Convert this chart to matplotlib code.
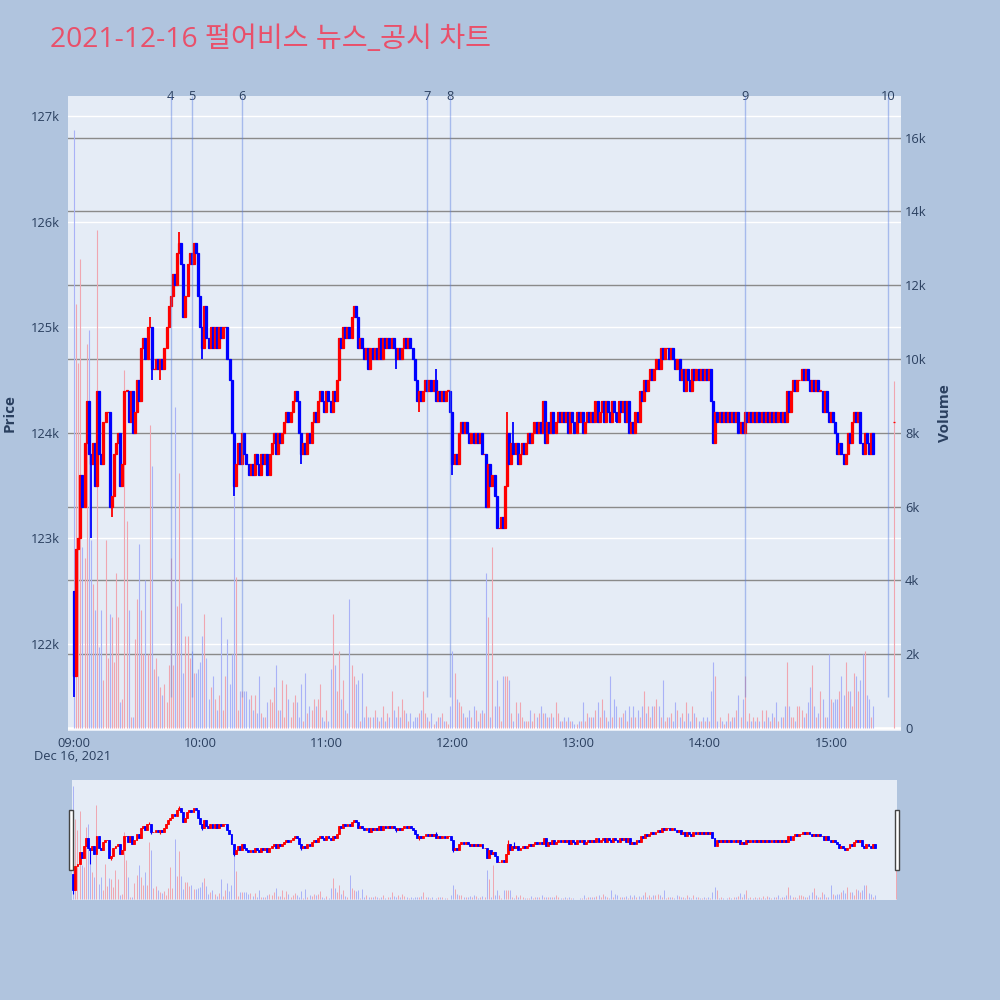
import numpy as np
import matplotlib.pyplot as plt
from matplotlib.transforms import blended_transform_factory
from matplotlib.patches import Rectangle

plt.rcParams['font.family'] = ['Open Sans', 'Noto Sans CJK KR', 'DejaVu Sans']

# 1분봉 종가 (천원) 09:00 ~ 15:20, 마지막 값은 15:30 동시호가
close = [
    121.7, 122.9, 123.0, 123.6, 123.3, 123.9, 124.3, 123.8, 123.7, 123.9,
    123.5, 124.4, 123.8, 123.7, 124.1, 124.2, 124.2, 123.3, 123.4, 123.8,
    123.9, 124.0, 123.5, 123.7, 124.4, 124.4, 124.1, 124.4, 124.0, 124.2,
    124.5, 124.3, 124.8, 124.9, 124.7, 125.0, 125.0, 124.6, 124.6, 124.7,
    124.6, 124.7, 124.6, 124.8, 125.0, 125.2, 125.3, 125.5, 125.4, 125.7,
    125.8, 125.6, 125.1, 125.3, 125.6, 125.7, 125.6, 125.8, 125.7, 125.3,
    125.0, 124.8, 125.2, 124.9, 124.8, 125.0, 124.8, 125.0, 124.8, 125.0,
    124.9, 125.0, 125.0, 124.7, 124.5, 124.0, 123.5, 123.7, 123.9, 123.7,
    124.0, 123.8, 123.7, 123.6, 123.7, 123.6, 123.8, 123.7, 123.6, 123.8,
    123.7, 123.8, 123.6, 123.8, 123.9, 124.0, 123.8, 124.0, 123.9, 124.0,
    124.1, 124.2, 124.1, 124.2, 124.3, 124.4, 124.3, 124.0, 123.8, 123.9,
    123.8, 124.0, 123.9, 124.1, 124.2, 124.1, 124.3, 124.4, 124.3, 124.2,
    124.4, 124.3, 124.2, 124.4, 124.3, 124.5, 124.9, 124.8, 125.0, 124.9,
    125.0, 124.9, 125.1, 125.2, 125.1, 124.8, 124.9, 124.8, 124.7, 124.8,
    124.6, 124.8, 124.7, 124.8, 124.7, 124.9, 124.7, 124.9, 124.8, 124.9,
    124.8, 124.9, 124.8, 124.7, 124.8, 124.7, 124.8, 124.9, 124.8, 124.9,
    124.8, 124.7, 124.5, 124.3, 124.4, 124.3, 124.4, 124.5, 124.4, 124.5,
    124.4, 124.5, 124.3, 124.4, 124.3, 124.4, 124.3, 124.4, 124.4, 124.2,
    123.7, 123.8, 123.7, 124.0, 124.1, 124.0, 124.1, 124.0, 123.9, 124.0,
    123.9, 124.0, 123.9, 124.0, 123.8, 123.8, 123.3, 123.7, 123.5, 123.6,
    123.4, 123.1, 123.1, 123.2, 123.1, 123.5, 124.0, 123.7, 123.9, 123.8,
    123.9, 123.7, 123.8, 123.9, 123.8, 123.9, 124.0, 123.9, 124.0, 124.1,
    124.0, 124.1, 124.0, 124.3, 123.9, 124.1, 124.0, 124.2, 124.0, 124.1,
    124.2, 124.1, 124.2, 124.1, 124.2, 124.0, 124.2, 124.1, 124.0, 124.2,
    124.1, 124.2, 124.0, 124.1, 124.2, 124.1, 124.2, 124.1, 124.3, 124.1,
    124.2, 124.3, 124.1, 124.3, 124.2, 124.1, 124.3, 124.2, 124.1, 124.3,
    124.2, 124.3, 124.1, 124.3, 124.0, 124.1, 124.0, 124.2, 124.1, 124.4,
    124.3, 124.5, 124.4, 124.5, 124.6, 124.5, 124.6, 124.7, 124.6, 124.8,
    124.7, 124.8, 124.8, 124.7, 124.8, 124.7, 124.6, 124.7, 124.5, 124.6,
    124.4, 124.6, 124.5, 124.4, 124.6, 124.5, 124.6, 124.5, 124.6, 124.5,
    124.6, 124.5, 124.6, 124.3, 123.9, 124.2, 124.1, 124.2, 124.1, 124.2,
    124.1, 124.2, 124.1, 124.2, 124.1, 124.2, 124.0, 124.1, 124.0, 124.2,
    124.1, 124.2, 124.1, 124.2, 124.1, 124.2, 124.1, 124.2, 124.1, 124.2,
    124.1, 124.2, 124.1, 124.2, 124.1, 124.2, 124.1, 124.2, 124.1, 124.4,
    124.2, 124.4, 124.5, 124.4, 124.5, 124.5, 124.6, 124.5, 124.6, 124.5,
    124.4, 124.5, 124.4, 124.5, 124.4, 124.4, 124.2, 124.4, 124.2, 124.1,
    124.2, 124.1, 124.0, 123.8, 123.9, 123.8, 123.7, 123.8, 124.0, 123.9,
    124.1, 124.2, 124.1, 124.2, 123.9, 123.8, 124.0, 123.9, 123.8, 124.0,
    123.8, 124.1,
]
first_open = 122.5
auction_open = 124.1

# 거래량 (천주)
volume = [
    16.2, 11.5, 9.9, 12.7, 4.9, 4.6, 10.4, 10.8, 5.1, 3.9,
    3.2, 13.5, 2.2, 3.2, 1.3, 5.1, 1.9, 3.1, 3.0, 1.8,
    4.2, 3.0, 0.7, 0.8, 9.7, 5.6, 3.2, 0.3, 0.3, 2.4,
    3.5, 5.0, 3.2, 2.0, 4.0, 2.0, 8.2, 7.1, 1.6, 1.9,
    1.4, 1.1, 0.9, 1.2, 0.7, 1.7, 4.6, 1.7, 8.7, 3.3,
    6.9, 3.4, 1.5, 2.5, 2.5, 1.9, 2.1, 1.5, 1.5, 1.6,
    1.8, 2.5, 3.1, 1.9, 0.8, 1.1, 1.4, 0.8, 0.5, 0.9,
    3.0, 0.5, 1.4, 2.4, 1.2, 2.0, 6.3, 4.1, 0.5, 1.0,
    1.0, 1.0, 1.0, 0.8, 0.9, 0.5, 0.9, 0.4, 1.4, 0.4,
    0.3, 0.3, 0.7, 0.8, 0.7, 1.1, 1.7, 0.5, 0.5, 1.3,
    0.3, 1.2, 0.8, 0.3, 0.7, 0.9, 0.7, 0.3, 1.2, 0.2,
    1.5, 0.4, 0.6, 0.5, 0.8, 0.6, 0.8, 1.2, 0.3, 0.2,
    0.5, 0.2, 1.6, 3.1, 1.7, 1.0, 2.1, 0.8, 1.3, 0.5,
    0.4, 3.5, 1.7, 1.4, 1.2, 1.3, 0.2, 1.5, 0.3, 0.6,
    0.3, 0.3, 0.3, 0.5, 0.3, 0.2, 0.3, 0.6, 0.2, 0.4,
    0.3, 1.0, 0.5, 0.3, 0.6, 0.3, 0.8, 0.5, 0.4, 0.2,
    0.4, 0.2, 0.3, 0.3, 0.4, 0.5, 1.0, 0.4, 0.3, 0.2,
    0.4, 0.1, 0.2, 0.3, 0.3, 0.4, 0.2, 0.2, 0.1, 0.6,
    2.1, 1.5, 0.8, 0.7, 0.6, 0.4, 0.3, 0.3, 0.5, 0.3,
    0.6, 0.5, 0.2, 0.4, 0.5, 0.4, 4.2, 3.0, 0.3, 4.9,
    0.6, 1.3, 0.6, 0.2, 1.4, 1.4, 1.4, 1.3, 0.4, 0.2,
    0.7, 0.4, 0.7, 0.3, 0.2, 0.2, 0.2, 0.5, 0.2, 0.4,
    0.3, 0.4, 0.6, 0.4, 0.4, 0.3, 0.3, 0.4, 0.3, 0.7,
    0.4, 0.2, 0.2, 0.3, 0.2, 0.3, 0.2, 0.2, 0.1, 0.1,
    0.2, 0.2, 0.7, 0.2, 0.4, 0.3, 0.3, 0.3, 0.5, 0.7,
    0.3, 0.8, 0.5, 0.3, 0.2, 1.4, 0.3, 0.8, 0.6, 0.3,
    0.3, 0.4, 0.5, 0.2, 0.6, 0.3, 0.6, 0.3, 0.5, 0.3,
    0.6, 1.0, 0.4, 0.6, 0.3, 0.6, 0.6, 0.8, 0.6, 0.3,
    1.3, 0.2, 0.3, 0.3, 0.4, 0.2, 0.7, 0.5, 0.3, 0.4,
    0.2, 0.7, 0.4, 0.2, 0.6, 0.4, 0.3, 0.2, 0.2, 0.3,
    0.2, 0.3, 0.2, 1.0, 1.8, 1.4, 0.2, 0.3, 0.2, 0.1,
    0.2, 0.4, 0.2, 0.3, 0.3, 0.5, 0.9, 0.3, 0.8, 1.4,
    0.2, 0.4, 0.2, 0.3, 0.2, 0.3, 0.2, 0.5, 0.2, 0.5,
    0.3, 0.2, 0.4, 0.3, 0.7, 0.2, 0.3, 0.3, 0.6, 1.8,
    0.6, 0.3, 0.3, 0.2, 0.6, 0.6, 0.5, 0.3, 0.4, 0.7,
    1.1, 1.7, 0.6, 0.3, 0.4, 1.0, 0.8, 0.3, 0.3, 2.0,
    0.8, 0.7, 0.8, 0.8, 1.0, 1.4, 0.9, 1.8, 1.0, 1.0,
    0.6, 1.5, 1.4, 1.0, 1.3, 2.0, 2.1, 0.9, 0.8, 0.3,
    0.6, 9.4,
]

# 꼬리 (분: 가격)
wick_hi = {36: 125.1, 50: 125.9, 172: 124.6, 206: 124.2, 209: 124.1}
wick_lo = {0: 121.5, 8: 123.0, 18: 123.2, 37: 124.5, 41: 124.5, 61: 124.7,
           76: 123.4, 108: 123.7, 153: 124.6, 164: 124.2, 180: 123.6}

# 뉴스/공시 시각 (09:00 부터 분)
news_min = [46, 56, 80, 168, 179, 319, 387]
news_no = ['4', '5', '6', '7', '8', '9', '10']

tick_min = [0, 60, 120, 180, 240, 300, 360]
tick_lab = ['09:00', '10:00', '11:00', '12:00', '13:00', '14:00', '15:00']

# 계산
x = np.array(list(range(381)) + [390])
c = np.array(close) * 1000
o = np.array([first_open] + close[:-1]) * 1000
o[-1] = auction_open * 1000
hi = np.maximum(o, c)
lo = np.minimum(o, c)
for k, v in wick_hi.items():
    hi[k] = max(hi[k], v * 1000)
for k, v in wick_lo.items():
    lo[k] = min(lo[k], v * 1000)
up = c >= o
col = np.where(up, '#ff0000', '#0000ff')
vcol = np.where(up, '#f0a6b0', '#a9b2f7')
vol = np.array(volume) * 1000
body = np.maximum(np.abs(c - o), 1)
base = np.minimum(o, c)

bg = '#b0c4de'
plot_bg = '#e5ecf6'
txt = '#2a3f5f'
p_lim = (121175, 127190)
v_lim = (-80, 17130)

fig = plt.figure(figsize=(10, 10), dpi=100, facecolor=bg)

# 메인 차트
ax2 = fig.add_axes([0.068, 0.269, 0.833, 0.635])
ax = ax2.twinx()
ax2.set_facecolor(plot_bg)
ax.patch.set_visible(False)
ax.yaxis.tick_left()
ax2.yaxis.tick_right()

ax2.set_xlim(-2.85, 393.3)
ax.set_ylim(*p_lim)
ax2.set_ylim(*v_lim)

tr = blended_transform_factory(ax2.transAxes, ax.transData)
for p in range(122000, 128000, 1000):
    ax2.plot([0, 1], [p, p], color='white', lw=1, transform=tr, zorder=0)
for v in range(0, 17000, 2000):
    ax2.axhline(v, color='#8a8a8a', lw=1, zorder=0.5)
ax2.axhline(0, color='white', lw=2, zorder=0.6)

ax2.vlines(x, 0, vol, colors=vcol, lw=0.8, zorder=1)

ax.vlines(x, lo, hi, colors=col, lw=1.3, zorder=3)
ax.bar(x, body, bottom=base, width=0.95, color=col, edgecolor=col, lw=0.9, zorder=3)

ax.vlines(news_min, 121500, p_lim[1], color='#5b7fe0', alpha=0.45, lw=1, zorder=4)
trn = blended_transform_factory(ax.transData, ax.transAxes)
for m, n in zip(news_min, news_no):
    ax.text(m, 1.0, n, transform=trn, ha='center', va='center', fontsize=9.3,
            color=txt, clip_on=False)

for a in (ax, ax2):
    for s in a.spines.values():
        s.set_visible(False)
    a.tick_params(length=0, labelsize=9.3, labelcolor=txt)

ax.set_yticks(range(122000, 128000, 1000))
ax.set_yticklabels([f'{p // 1000}k' for p in range(122000, 128000, 1000)])
ax.tick_params(axis='y', pad=6)
ax2.set_yticks(range(0, 17000, 2000))
ax2.set_yticklabels(['0'] + [f'{v // 1000}k' for v in range(2000, 17000, 2000)])
ax2.tick_params(axis='y', pad=3)
ax2.set_xticks(tick_min)
ax2.set_xticklabels(tick_lab)
ax2.tick_params(axis='x', pad=4)

fig.text(0.073, 1 - 0.757, 'Dec 16, 2021', ha='center', va='center', fontsize=9.3, color=txt)
fig.text(0.010, 1 - 0.413, 'Price', rotation=90, ha='center', va='center',
         fontsize=11, fontweight='bold', color=txt)
fig.text(0.945, 1 - 0.413, 'Volume', rotation=90, ha='center', va='center',
         fontsize=11, fontweight='bold', color=txt)
fig.text(0.050, 1 - 0.040, '2021-12-16 펄어비스 뉴스_공시 차트', ha='left', va='center',
         fontsize=20.3, color='#e9506a')

# 레인지 슬라이더
rs2 = fig.add_axes([0.072, 0.100, 0.825, 0.120])
rs = rs2.twinx()
rs2.set_facecolor(plot_bg)
rs.patch.set_visible(False)
rs2.set_xlim(-0.6, 390.5)
rs.set_ylim(*p_lim)
rs2.set_ylim(*v_lim)
rs2.vlines(x, 0, vol, colors=vcol, lw=0.7)
rs.vlines(x, lo, hi, colors=col, lw=0.8)
rs.bar(x, body, bottom=base, width=0.9, color=col, edgecolor=col, lw=0.6)
for a in (rs, rs2):
    a.set_xticks([])
    a.set_yticks([])
    for s in a.spines.values():
        s.set_visible(False)

for hx in (0.069, 0.895):
    fig.patches.append(Rectangle((hx, 1 - 0.870), 0.004, 0.060, transform=fig.transFigure,
                                 facecolor='white', edgecolor='#444444', lw=1))

plt.savefig('out.png', dpi=100, facecolor=bg)
